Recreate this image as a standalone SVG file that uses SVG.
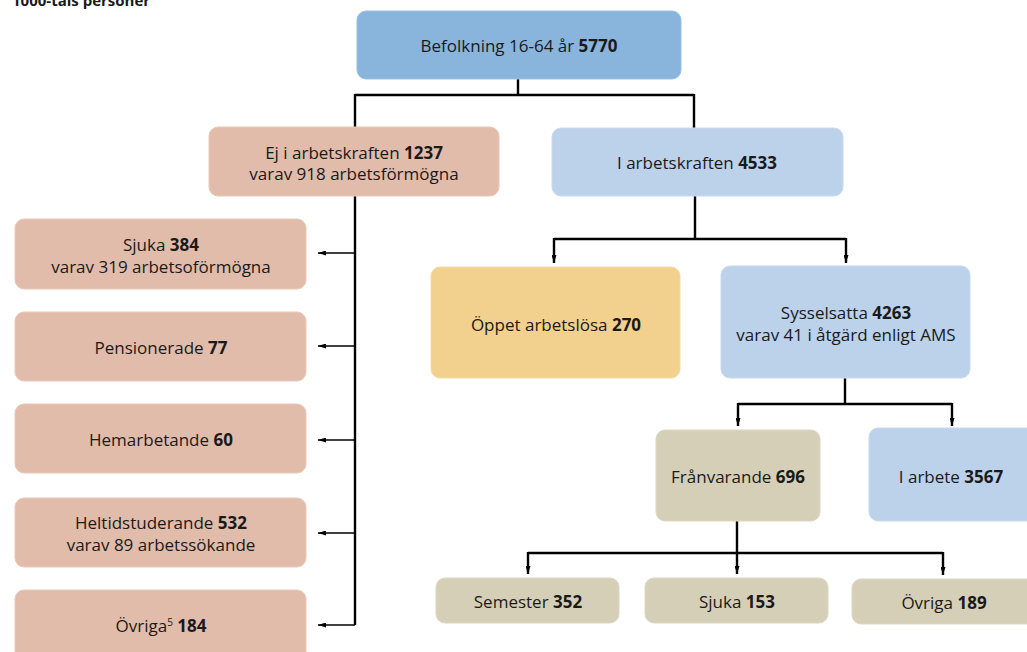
<svg xmlns="http://www.w3.org/2000/svg" width="1027" height="652" viewBox="0 0 1027 652">
<defs>
<marker id="arr" viewBox="0 0 8 5" refX="8" refY="2.5" markerWidth="8" markerHeight="5" markerUnits="userSpaceOnUse" orient="auto">
<path d="M0,0 L8,2.5 L0,5 z" fill="#000"/>
</marker>
<style>
text{font-family:"Open Sans","Noto Sans","Liberation Sans",sans-serif;font-size:17px;fill:#1a1a1a;text-anchor:middle}
.b{font-weight:bold}
.box{stroke-width:1}
.pop{fill:#89b4dc;stroke:#9cc0e2}
.red{fill:#e2bcaa;stroke:#e8c8b8}
.blue{fill:#bcd1ea;stroke:#c8daee}
.yel{fill:#f2d08e;stroke:#f5daa4}
.tan{fill:#d6cfb7;stroke:#ddd7c3}
.ln{fill:none;stroke:#000;stroke-width:2.4}
.la{fill:none;stroke:#000;stroke-width:2.4;marker-end:url(#arr)}
.lt{fill:none;stroke:#000;stroke-width:1.6;marker-end:url(#arr)}
</style>
</defs>
<text x="12" y="6" class="b" style="text-anchor:start;font-size:15px">1000-tals personer</text>
<g id="connectors">
<path class="ln" d="M518,79 V95 M355,95 H694 M355,94 V127 M694,94 V128"/>
<path class="ln" d="M355,196 V625"/>
<path class="lt" d="M355,253 H318"/>
<path class="lt" d="M355,346 H318"/>
<path class="lt" d="M355,440 H318"/>
<path class="lt" d="M355,533 H318"/>
<path class="lt" d="M355,625 H318"/>
<path class="ln" d="M695,196 V239 M554,239 H846"/>
<path class="la" d="M554,238 V263"/>
<path class="la" d="M846,238 V263"/>
<path class="ln" d="M845,378 V404 M738,404 H952"/>
<path class="la" d="M738,403 V426"/>
<path class="la" d="M952,403 V426"/>
<path class="ln" d="M737,521 V553 M528,553 H943"/>
<path class="la" d="M528,552 V574"/>
<path class="la" d="M737,552 V574"/>
<path class="la" d="M943,552 V575"/>
</g>
<g id="befolkning"><rect class="box pop" x="357" y="11" width="324" height="68" rx="9"/><text x="519" y="52">Befolkning 16-64 år <tspan class="b">5770</tspan></text></g>
<g id="ej"><rect class="box red" x="209" y="127" width="290" height="69" rx="9"/><text x="354" y="159">Ej i arbetskraften <tspan class="b">1237</tspan></text><text x="354" y="180">varav 918 arbetsförmögna</text></g>
<g id="iak"><rect class="box blue" x="552" y="128" width="291" height="68" rx="9"/><text x="697" y="169">I arbetskraften <tspan class="b">4533</tspan></text></g>
<g id="sjuka"><rect class="box red" x="15" y="219" width="291" height="70" rx="9"/><text x="161" y="251">Sjuka <tspan class="b">384</tspan></text><text x="161" y="273">varav 319 arbetsoförmögna</text></g>
<g id="pension"><rect class="box red" x="15" y="312" width="291" height="69" rx="9"/><text x="161" y="354">Pensionerade <tspan class="b">77</tspan></text></g>
<g id="hemarb"><rect class="box red" x="15" y="404" width="291" height="69" rx="9"/><text x="161" y="446">Hemarbetande <tspan class="b">60</tspan></text></g>
<g id="heltid"><rect class="box red" x="15" y="498" width="291" height="69" rx="9"/><text x="161" y="529">Heltidstuderande <tspan class="b">532</tspan></text><text x="161" y="551">varav 89 arbetssökande</text></g>
<g id="ovriga1"><rect class="box red" x="15" y="590" width="291" height="80" rx="9"/><text x="161" y="632">Övriga<tspan style="font-size:10px" dy="-6">5</tspan><tspan dy="6"> </tspan><tspan class="b">184</tspan></text></g>
<g id="oppet"><rect class="box yel" x="431" y="267" width="249" height="111" rx="9"/><text x="556" y="331">Öppet arbetslösa <tspan class="b">270</tspan></text></g>
<g id="syss"><rect class="box blue" x="721" y="266" width="249" height="112" rx="9"/><text x="846" y="319">Sysselsatta <tspan class="b">4263</tspan></text><text x="846" y="341">varav 41 i åtgärd enligt AMS</text></g>
<g id="franv"><rect class="box tan" x="656" y="430" width="164" height="91" rx="9"/><text x="738" y="483">Frånvarande <tspan class="b">696</tspan></text></g>
<g id="iarbete"><rect class="box blue" x="869" y="428" width="180" height="93" rx="9"/><text x="951" y="483">I arbete <tspan class="b">3567</tspan></text></g>
<g id="semester"><rect class="box tan" x="436" y="578" width="183" height="45" rx="9"/><text x="528" y="608">Semester <tspan class="b">352</tspan></text></g>
<g id="sjuka2"><rect class="box tan" x="645" y="578" width="183" height="45" rx="9"/><text x="737" y="608">Sjuka <tspan class="b">153</tspan></text></g>
<g id="ovriga2"><rect class="box tan" x="852" y="579" width="190" height="45" rx="9"/><text x="944" y="609">Övriga <tspan class="b">189</tspan></text></g>
</svg>
